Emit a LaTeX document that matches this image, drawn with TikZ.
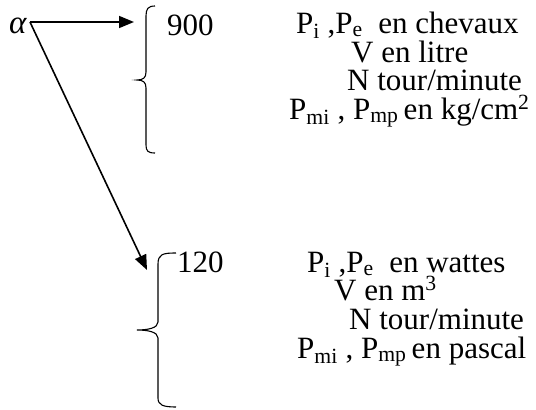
\documentclass[tikz,border=0pt]{standalone}
\usepackage{fontspec}
\setmainfont{Liberation Serif}
\usetikzlibrary{arrows.meta, positioning}

\begin{document}
\begin{tikzpicture}[x=1pt, y=-1pt,
			>={Triangle[length=15pt, width=12pt]},
			fleche/.style={->, line width=1.6pt},
			accolade/.style={line width=1.1pt},
			txt/.style={anchor=base west, inner sep=0pt, font=\fontsize{31}{34}\selectfont}]
			\useasboundingbox (0,0) rectangle (536,410);

			% alpha et les deux fleches
			\node[txt, font=\fontsize{33}{36}\selectfont] (alpha) at (9,33) {\itshape α};
			\coordinate (o) at (30,22);
			\coordinate (h) at (134,22);
			\coordinate (b) at (147,270);
			\draw[fleche] (o) -- (h);
			\draw[fleche] (o) -- (b);

			% accolades
			\draw[accolade] (155,6) .. controls (148,6) and (146,9) .. (146,16) -- (146,72)
				.. controls (146,78) and (143,80) .. (137,80) .. controls (143,80) and (146,82) .. (146,88)
				-- (146,145) .. controls (146,151) and (148,153) .. (155,153);
			\draw[accolade] (176,253) .. controls (163,253) and (158,254) .. (158,264) -- (158,322)
				.. controls (158,328) and (148,330) .. (137,330) .. controls (148,330) and (158,332) .. (158,338)
				-- (158,398) .. controls (158,405) and (163,407) .. (176,407);

			% premier cas
			\node[txt] (n900) at (167,35) {900};
			\node[txt] (c1) at (296,33) {P\textsubscript{i} ,P\textsubscript{e}\ \ en chevaux};
			\node[txt] (c2) at (351,62) {V en litre};
			\node[txt] (c3) at (347,90) {N tour/minute};
			\node[txt] (c4) at (289,119) {P\textsubscript{mi} , P\textsubscript{mp}\,en kg/cm\textsuperscript{2}};

			% second cas
			\node[txt] (n120) at (177,272) {120};
			\node[txt] (d1) at (307,272) {P\textsubscript{i} ,P\textsubscript{e}\ \ en wattes};
			\node[txt] (d2) at (334,300) {V en m\textsuperscript{3}};
			\node[txt] (d3) at (349,329) {N tour/minute};
			\node[txt] (d4) at (297,358) {P\textsubscript{mi} , P\textsubscript{mp}\,en pascal};
		\end{tikzpicture}
\end{document}
